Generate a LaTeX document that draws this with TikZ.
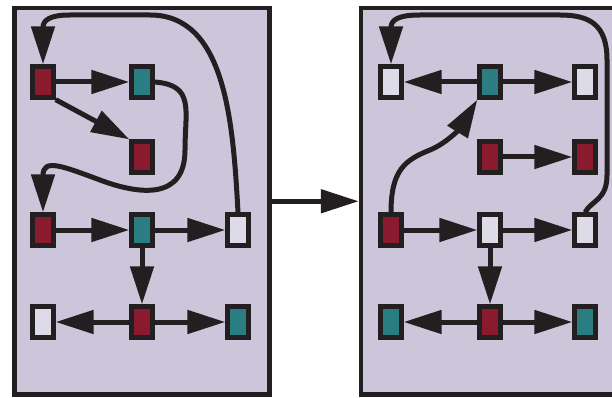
\documentclass[tikz,border=0pt]{standalone}
\usetikzlibrary{arrows.meta}
\definecolor{panelbg}{HTML}{CBC6DA}
\definecolor{ink}{HTML}{231F20}
\definecolor{cred}{HTML}{8A1A2E}
\definecolor{cteal}{HTML}{2A7D80}
\definecolor{cwhite}{HTML}{DEDBE8}
\tikzset{
  panel/.style={draw=ink, fill=panelbg, line width=4.5pt, rectangle, inner sep=0pt},
  box/.style={draw=ink, line width=4.8pt, rectangle, inner sep=0pt, minimum width=20.5pt, minimum height=30.5pt},
  rbox/.style={box, fill=cred},
  tbox/.style={box, fill=cteal},
  wbox/.style={box, fill=cwhite},
  conn/.style={draw=ink, line width=5pt, -{Triangle[length=38pt,width=23pt]}},
}
\begin{document}
\begin{tikzpicture}[x=1pt,y=-1pt]
\useasboundingbox (0,0) rectangle (612,398);
\fill[white] (0,0) rectangle (612,398);
% panels
\node[panel, minimum width=255pt, minimum height=386.5pt] (L) at (142,201.25) {};
\node[panel, minimum width=259pt, minimum height=386.5pt] (R) at (490.5,201.25) {};
% left panel nodes
\node[rbox] (A) at (43,82) {};
\node[tbox] (B) at (142,82) {};
\node[rbox] (C) at (142,157) {};
\node[rbox] (L3a) at (43,230) {};
\node[tbox] (L3b) at (142,230) {};
\node[wbox] (L3c) at (238,230) {};
\node[wbox] (L4a) at (43,322) {};
\node[rbox] (L4b) at (142,322) {};
\node[tbox] (L4c) at (238,322) {};
% right panel nodes
\node[wbox] (R1a) at (391,82) {};
\node[tbox] (R1b) at (490,82) {};
\node[wbox] (R1c) at (585,82) {};
\node[rbox] (R2b) at (490,157) {};
\node[rbox] (R2c) at (585,157) {};
\node[rbox] (R3a) at (391,230) {};
\node[wbox] (R3b) at (490,230) {};
\node[wbox] (R3c) at (585,230) {};
\node[tbox] (R4a) at (391,322) {};
\node[rbox] (R4b) at (490,322) {};
\node[tbox] (R4c) at (585,322) {};
% between panels
\draw[conn] (L.east) -- (R.west);
% left connectors
\draw[conn] (A) -- (B);
\draw[conn] (A.south east) -- (C.north west);
\draw[conn] (B.east) .. controls (195,85) and (185,110) .. (185,150)
  .. controls (185,200) and (140,195) .. (100,180)
  .. controls (62,166) and (43,158) .. (L3a.north);
\draw[conn] (L3c.north) .. controls (233,120) and (225,15) .. (150,15)
  -- (70,15) .. controls (50,15) and (43,20) .. (A.north);
\draw[conn] (L3a) -- (L3b);
\draw[conn] (L3b) -- (L3c);
\draw[conn] (L3b) -- (L4b);
\draw[conn] (L4b) -- (L4a);
\draw[conn] (L4b) -- (L4c);
% right connectors
\draw[conn] (R1b) -- (R1a);
\draw[conn] (R1b) -- (R1c);
\draw[conn] (R2b) -- (R2c);
\draw[conn] (R3a.north) .. controls (391,170) and (405,160) .. (430,150)
  .. controls (447,143) and (460,128) .. (R1b.south west);
\draw[conn] (R3c.north) .. controls (592,200) and (607,200) .. (607,175)
  -- (607,60) .. controls (607,25) and (590,15) .. (560,15)
  -- (420,15) .. controls (398,15) and (391,20) .. (R1a.north);
\draw[conn] (R3a) -- (R3b);
\draw[conn] (R3b) -- (R3c);
\draw[conn] (R3b) -- (R4b);
\draw[conn] (R4b) -- (R4a);
\draw[conn] (R4b) -- (R4c);
\end{tikzpicture}
\end{document}
